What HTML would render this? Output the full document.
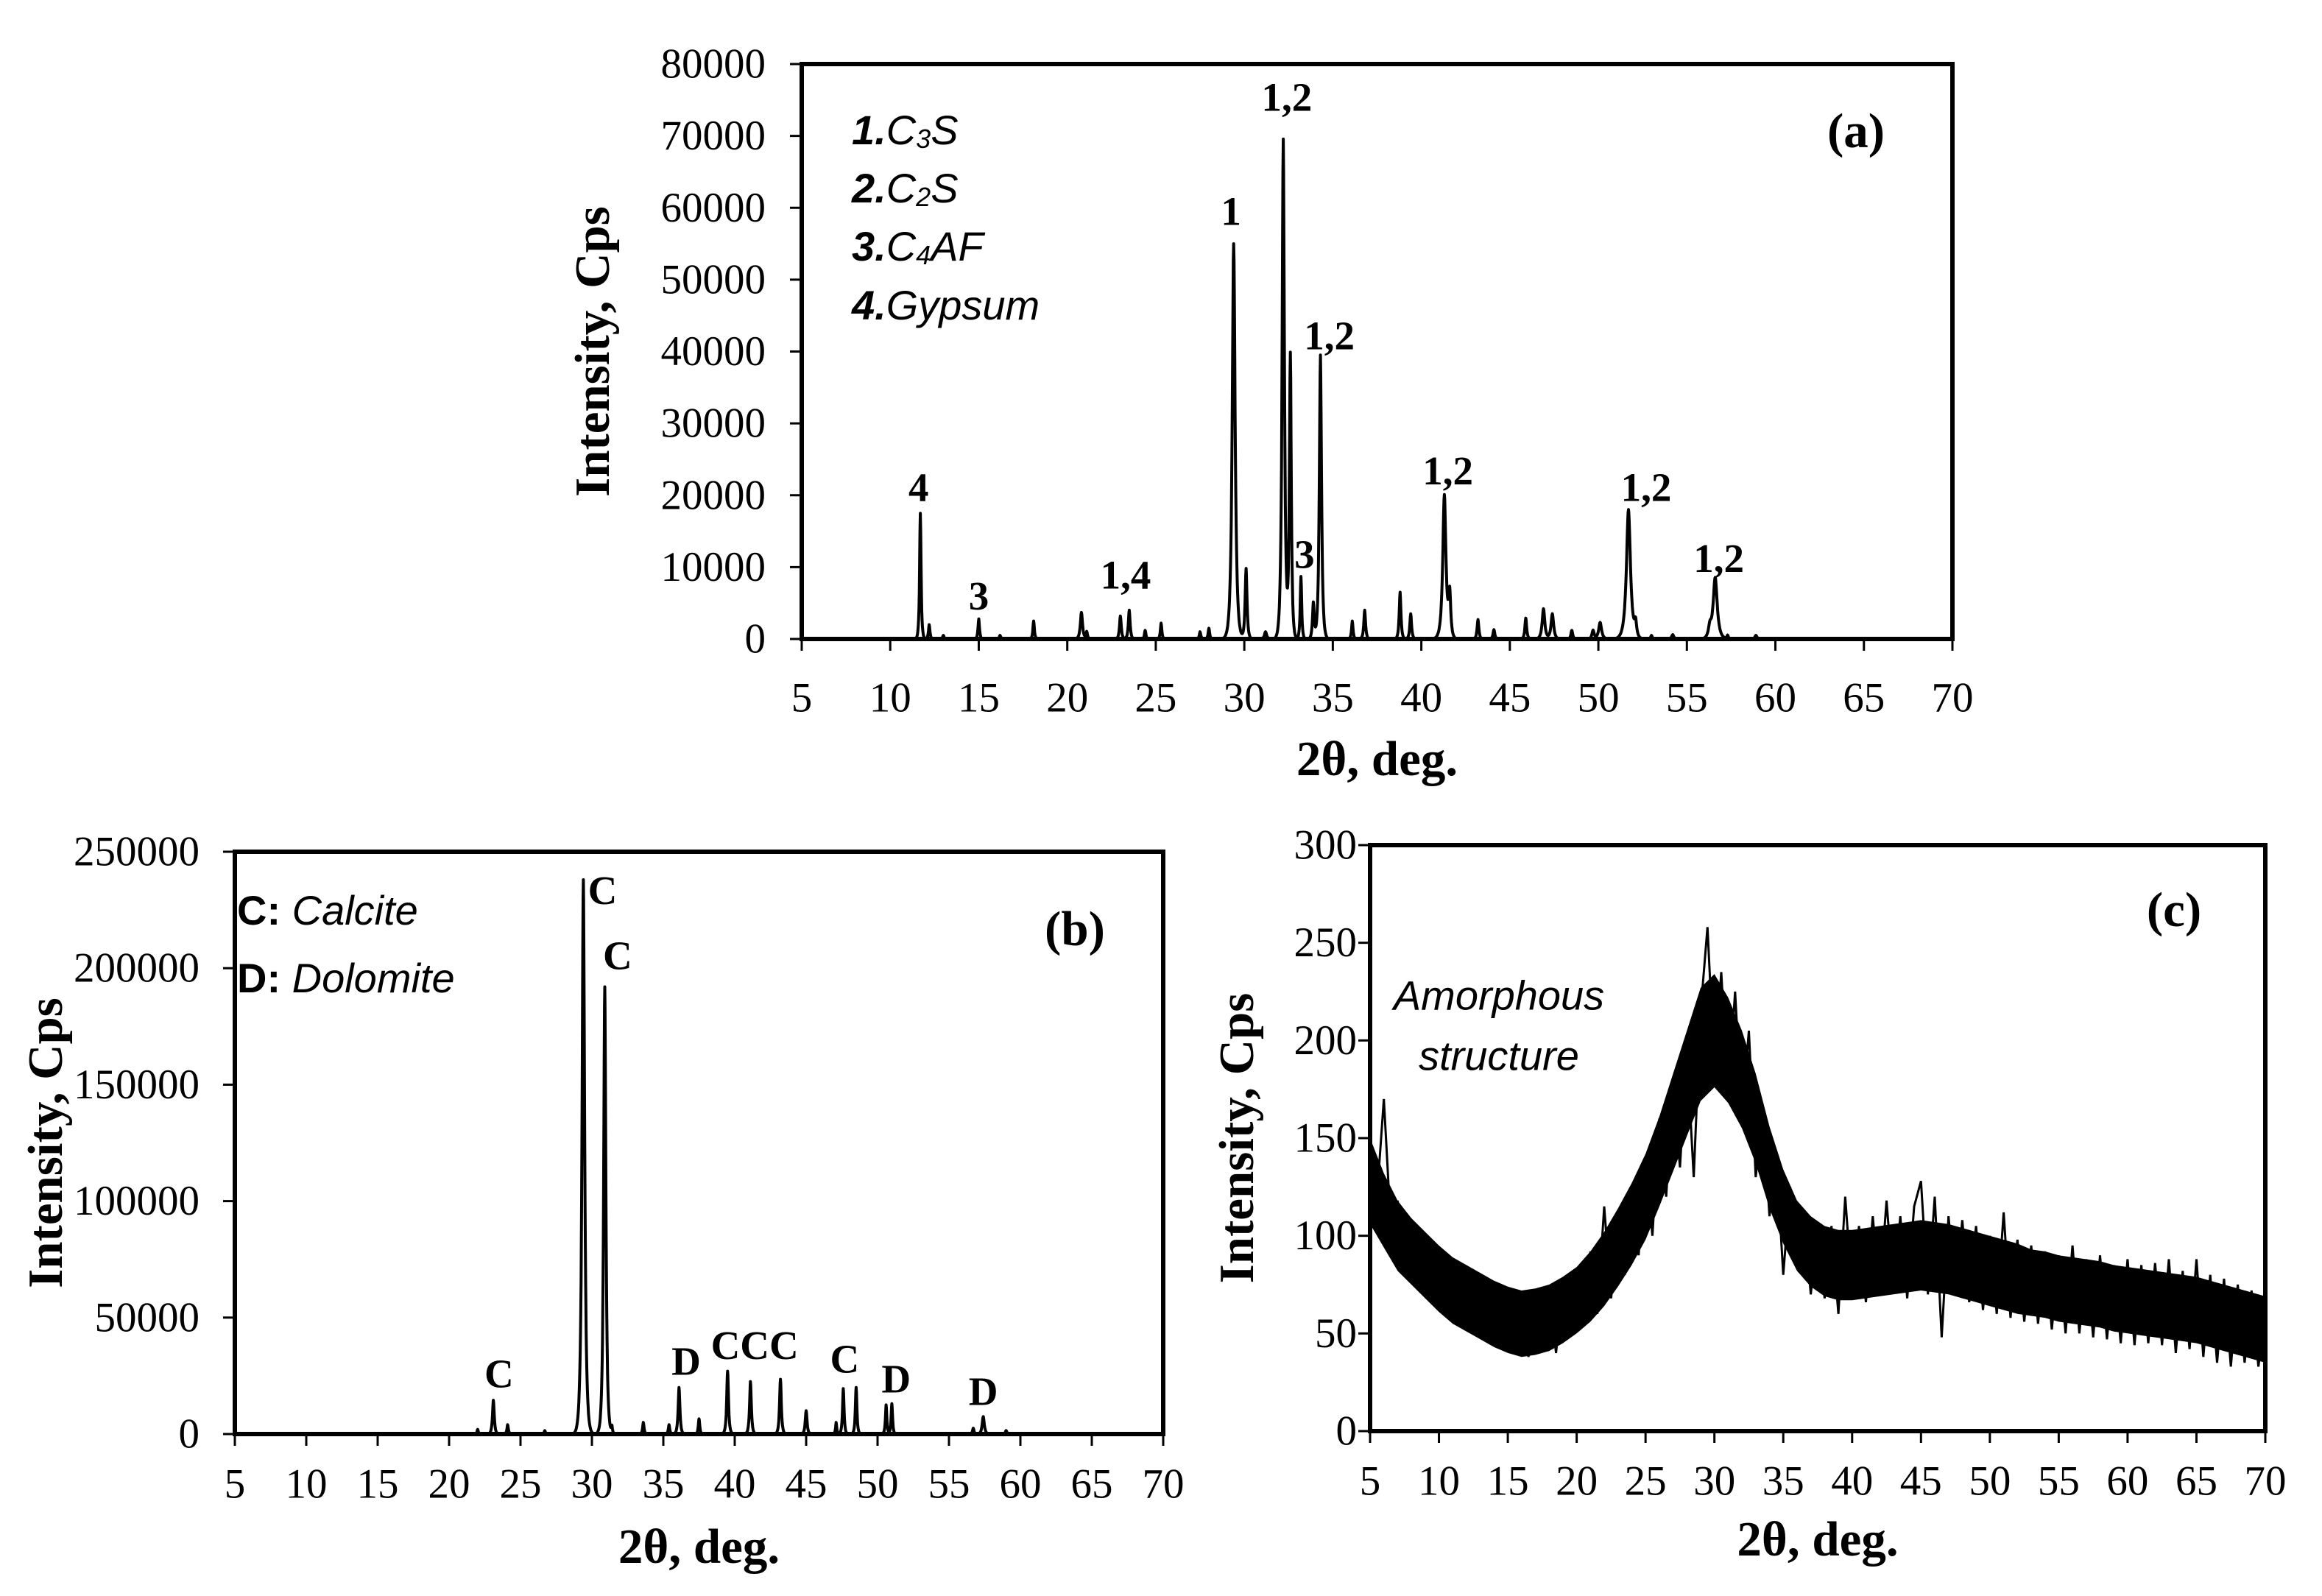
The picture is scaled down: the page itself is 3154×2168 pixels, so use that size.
<!DOCTYPE html>
<html><head><meta charset="utf-8">
<style>
html,body{margin:0;padding:0;background:#fff;}
svg{display:block;}
.tick{font-family:"Liberation Serif",serif;font-size:57px;fill:#000;}
.title{font-family:"Liberation Serif",serif;font-size:67px;font-weight:bold;fill:#000;}
.ann{font-family:"Liberation Serif",serif;font-size:55px;font-weight:bold;fill:#000;}
.leg{font-family:"Liberation Sans",sans-serif;font-size:56px;fill:#000;}
</style></head>
<body>
<svg id="fig" width="3154" height="2168" viewBox="0 0 3154 2168" xmlns="http://www.w3.org/2000/svg">
<rect width="3154" height="2168" fill="#fff"/>
</svg>
<script>
// ---------- Panel (a) data ----------
const aPeakPos = [11.7,12.2,13,15,16.2,18.1,20.8,21.1,23,23.5,24.4,25.3,27.5,28,29.4,30.1,31.2,32.2,32.6,33.2,33.9,34.3,36.1,36.8,38.8,39.4,41.3,41.6,43.2,44.1,45.9,46.9,47.4,48.5,49.7,50.1,51.7,52.1,53,54.2,56.3,56.6,57.3,58.9];
const aPeakHeight = [17500,2000,500,2800,500,2500,3700,1000,3200,4000,1200,2200,1000,1500,55000,9800,1000,69500,39500,8700,5000,39500,2500,4000,6500,3500,20000,6000,2700,1300,2900,4200,3500,1200,1200,2300,18000,2000,500,600,1500,8500,500,500];
const aPeakWidth = [0.1,0.1,0.1,0.1,0.1,0.1,0.15,0.1,0.12,0.12,0.1,0.1,0.1,0.1,0.2,0.13,0.15,0.16,0.13,0.1,0.12,0.15,0.1,0.12,0.12,0.12,0.22,0.15,0.12,0.12,0.12,0.18,0.18,0.12,0.15,0.2,0.28,0.15,0.1,0.15,0.2,0.28,0.1,0.15];
const aLabels = ["4","3","1,4","1","1,2","3","1,2","1,2","1,2","1,2"];
const aLabelX = [11.6,15.0,23.3,29.25,32.4,33.4,34.8,41.5,52.7,56.8];
const aLabelY = [21100,6000,8900,59500,75400,11800,42200,23400,21100,11200];
const aYTicks = [0,10000,20000,30000,40000,50000,60000,70000,80000];
const xTicks = [5,10,15,20,25,30,35,40,45,50,55,60,65,70];

// ---------- Panel (b) data ----------
const bPeakPos = [12,22,23.1,24.1,26.7,29.4,30.9,31.4,33.6,35.4,36.1,37.5,39.5,41.1,43.2,45,47.1,47.6,48.5,50.6,51,56.7,57.4,59];
const bPeakHeight = [300,2000,14500,4000,1500,238000,192000,3000,5000,4000,20000,6500,27000,22500,23500,10000,5000,19500,20000,12500,13000,2500,7500,1500];
const bPeakWidth = [0.1,0.1,0.15,0.12,0.1,0.22,0.19,0.1,0.12,0.12,0.15,0.12,0.15,0.15,0.15,0.15,0.1,0.13,0.13,0.12,0.12,0.12,0.18,0.12];
const bLabels = ["C","C","C","D","CCC","C","D","D"];
const bLabelX = [23.5,30.75,31.8,36.6,41.4,47.7,51.3,57.4];
const bLabelY = [25900,233400,205500,31300,38100,32300,23700,18300];
const bYTicks = [0,50000,100000,150000,200000,250000];

// ---------- Panel (c) data ----------
const cStart = 5, cStep = 0.5;
const cValues = [150,120,170,105,118,88,105,78,95,72,88,66,84,60,80,55,75,50,72,45,70,40,68,38,66,42,70,40,75,48,80,55,92,60,115,68,108,80,122,90,140,100,160,120,178,135,195,130,215,258,185,235,170,225,160,205,130,165,110,140,80,125,90,110,70,105,68,105,60,120,70,105,66,110,70,118,72,110,68,115,128,70,120,48,110,70,108,66,105,62,100,60,112,58,98,56,95,55,92,52,90,50,95,50,88,48,90,47,85,45,88,44,85,45,86,44,88,40,82,42,88,38,80,35,78,33,75,35,72,33,60];
const cMeanX = [5,6,7,8,9,10,11,12,13,14,15,16,17,18,19,20,21,22,23,24,25,26,27,28,29,30,31,32,33,34,35,36,37,38,39,40,41,42,43,44,45,46,47,48,49,50,51,52,53,54,55,56,57,58,59,60,61,62,63,64,65,66,67,68,69,70];
const cMean = [128,113,100,92,85,78,72,68,64,60,57,55,56,58,62,67,74,83,94,106,120,138,158,178,198,205,195,180,160,135,115,100,92,87,85,85,86,87,88,89,90,89,88,86,84,82,80,78,76,75,73,72,71,70,68,67,66,65,64,63,62,60,58,56,54,52];
const cSpread = [22,19,18,17,17,17,17,17,17,17,17,17,17,17,17,17,18,19,20,21,22,23,25,27,29,29,27,25,23,21,19,18,18,18,18,18,18,18,18,18,18,18,18,18,18,18,18,18,17,17,17,17,17,17,17,17,17,17,17,17,17,17,17,17,17,17];
const cYTicks = [0,50,100,150,200,250,300];

const NS = "http://www.w3.org/2000/svg";
const fig = document.getElementById('fig');
function mk(tag, attrs, parent, text){
  const e = document.createElementNS(NS, tag);
  for (const k in attrs) e.setAttribute(k, attrs[k]);
  if (text !== undefined) e.textContent = text;
  (parent || fig).appendChild(e);
  return e;
}

function axes(g, box, yMax, yTicks, yLabelRight, xLabelY, titleY, yTitleX, name){
  const sx = v => box.l + (v - 5) / 65 * (box.r - box.l);
  const sy = v => box.b - v / yMax * (box.b - box.t);
  const frame = mk('rect', {x: box.l, y: box.t, width: box.r - box.l, height: box.b - box.t, fill: 'none', stroke: '#000', 'stroke-width': 6}, g);
  
  
  const yAx = mk('g', {}, g);
  
  
  yTicks.forEach(v => {
    mk('line', {x1: box.l - 16, x2: box.l, y1: sy(v), y2: sy(v), stroke: '#000', 'stroke-width': 3}, yAx);
    const t = mk('text', {x: yLabelRight, y: sy(v), 'text-anchor': 'end', 'dominant-baseline': 'central', class: 'tick'}, yAx, String(v));
    
    
  });
  const xAx = mk('g', {}, g);
  
  
  xTicks.forEach(v => {
    mk('line', {x1: sx(v), x2: sx(v), y1: box.b, y2: box.b + 16, stroke: '#000', 'stroke-width': 3}, xAx);
    const t = mk('text', {x: sx(v), y: xLabelY, 'text-anchor': 'middle', 'dominant-baseline': 'central', class: 'tick'}, xAx, String(v));
    
    
  });
  const xt = mk('text', {x: (box.l + box.r) / 2, y: titleY, 'text-anchor': 'middle', 'dominant-baseline': 'central', class: 'title'}, g, '2θ, deg.');
  
  
  const yc = (box.t + box.b) / 2;
  const yt = mk('text', {x: yTitleX, y: yc, 'text-anchor': 'middle', 'dominant-baseline': 'central', class: 'title', transform: 'rotate(-90 ' + yTitleX + ' ' + yc + ')'}, g, 'Intensity, Cps');
  
  
  return {sx, sy};
}

function peakPath(pos, hts, wid, sx, sy){
  let d = '';
  for (let x = 5; x <= 70.0001; x += 0.02) {
    let y = 0;
    for (let i = 0; i < pos.length; i++) {
      const u = (x - pos[i]) / wid[i];
      y += hts[i] / (1 + 4 * u * u) * Math.exp(-0.3 * u * u);
    }
    d += (d ? 'L' : 'M') + sx(x).toFixed(1) + ' ' + sy(y).toFixed(1);
  }
  return d;
}

// ===== Panel (a) =====
const gA = mk('g', {});


const A = axes(gA, {l: 1089, r: 2652, t: 87, b: 868}, 80000, aYTicks, 1040, 948, 1031, 805, 'panel-a');
const aLine = mk('path', {d: peakPath(aPeakPos, aPeakHeight, aPeakWidth, A.sx, A.sy), fill: 'none', stroke: '#000', 'stroke-width': 4, 'stroke-linejoin': 'round'}, gA);


aLabels.forEach((s, i) => {
  const t = mk('text', {x: A.sx(aLabelX[i]), y: A.sy(aLabelY[i]), 'text-anchor': 'middle', 'dominant-baseline': 'central', class: 'ann'}, gA, s);
  
  
});
const aLeg = [["1.","C","3","S"],["2.","C","2","S"],["3.","C","4","AF"],["4.","Gypsum","",""]];
const aLegY = [176,255,334,414];
aLeg.forEach((p, i) => {
  const t = mk('text', {x: 1157, y: aLegY[i], 'dominant-baseline': 'central', class: 'leg', 'font-style': 'italic'}, gA);
  
  
  mk('tspan', {'font-weight': 'bold'}, t, p[0]);
  mk('tspan', {}, t, p[1]);
  if (p[2]) { mk('tspan', {'font-size': '36px', dy: 12}, t, p[2]); mk('tspan', {dy: -12}, t, p[3]); }
});
const aTag = mk('text', {x: 2521, y: 178, 'text-anchor': 'middle', 'dominant-baseline': 'central', class: 'title', 'font-size': '82px'}, gA, '(a)');



// ===== Panel (b) =====
const gB = mk('g', {});


const B = axes(gB, {l: 319, r: 1580, t: 1157, b: 1948}, 250000, bYTicks, 271, 2016, 2101, 62, 'panel-b');
const bLine = mk('path', {d: peakPath(bPeakPos, bPeakHeight, bPeakWidth, B.sx, B.sy), fill: 'none', stroke: '#000', 'stroke-width': 4, 'stroke-linejoin': 'round'}, gB);


bLabels.forEach((s, i) => {
  const t = mk('text', {x: B.sx(bLabelX[i]), y: B.sy(bLabelY[i]), 'text-anchor': 'middle', 'dominant-baseline': 'central', class: 'ann', 'font-size': '58px'}, gB, s);
  
  
});
[["C: ","Calcite",1236],["D: ","Dolomite",1328]].forEach(p => {
  const t = mk('text', {x: 322, y: p[2], 'dominant-baseline': 'central', class: 'leg', 'font-size': '58px'}, gB);
  
  
  mk('tspan', {'font-weight': 'bold'}, t, p[0]);
  mk('tspan', {'font-style': 'italic'}, t, p[1]);
});
const bTag = mk('text', {x: 1460, y: 1262, 'text-anchor': 'middle', 'dominant-baseline': 'central', class: 'title', 'font-size': '82px'}, gB, '(b)');



// ===== Panel (c) =====
const gC = mk('g', {});


const C = axes(gC, {l: 1861, r: 3077, t: 1148, b: 1944}, 300, cYTicks, 1843, 2012, 2091, 1680, 'panel-c');
let bandTop = '', bandBot = [];
cMeanX.forEach((x, i) => {
  bandTop += (i ? 'L' : 'M') + C.sx(x).toFixed(1) + ' ' + C.sy(cMean[i] + cSpread[i]).toFixed(1);
  bandBot.push('L' + C.sx(x).toFixed(1) + ' ' + C.sy(cMean[i] - cSpread[i]).toFixed(1));
});
const band = mk('path', {d: bandTop + bandBot.reverse().join('') + 'Z', fill: '#000'}, gC);


let cd = '';
cValues.forEach((v, i) => { cd += (i ? 'L' : 'M') + C.sx(cStart + i * cStep).toFixed(1) + ' ' + C.sy(v).toFixed(1); });
const cLine = mk('path', {d: cd, fill: 'none', stroke: '#000', 'stroke-width': 3}, gC);


const am = mk('text', {x: 2036, y: 1352, 'text-anchor': 'middle', 'dominant-baseline': 'central', class: 'leg', 'font-style': 'italic', 'font-size': '58px'}, gC, 'Amorphous');


const st = mk('text', {x: 2036, y: 1434, 'text-anchor': 'middle', 'dominant-baseline': 'central', class: 'leg', 'font-style': 'italic', 'font-size': '58px'}, gC, 'structure');


const cTag = mk('text', {x: 2953, y: 1236, 'text-anchor': 'middle', 'dominant-baseline': 'central', class: 'title', 'font-size': '82px'}, gC, '(c)');


</script>
</body></html>
